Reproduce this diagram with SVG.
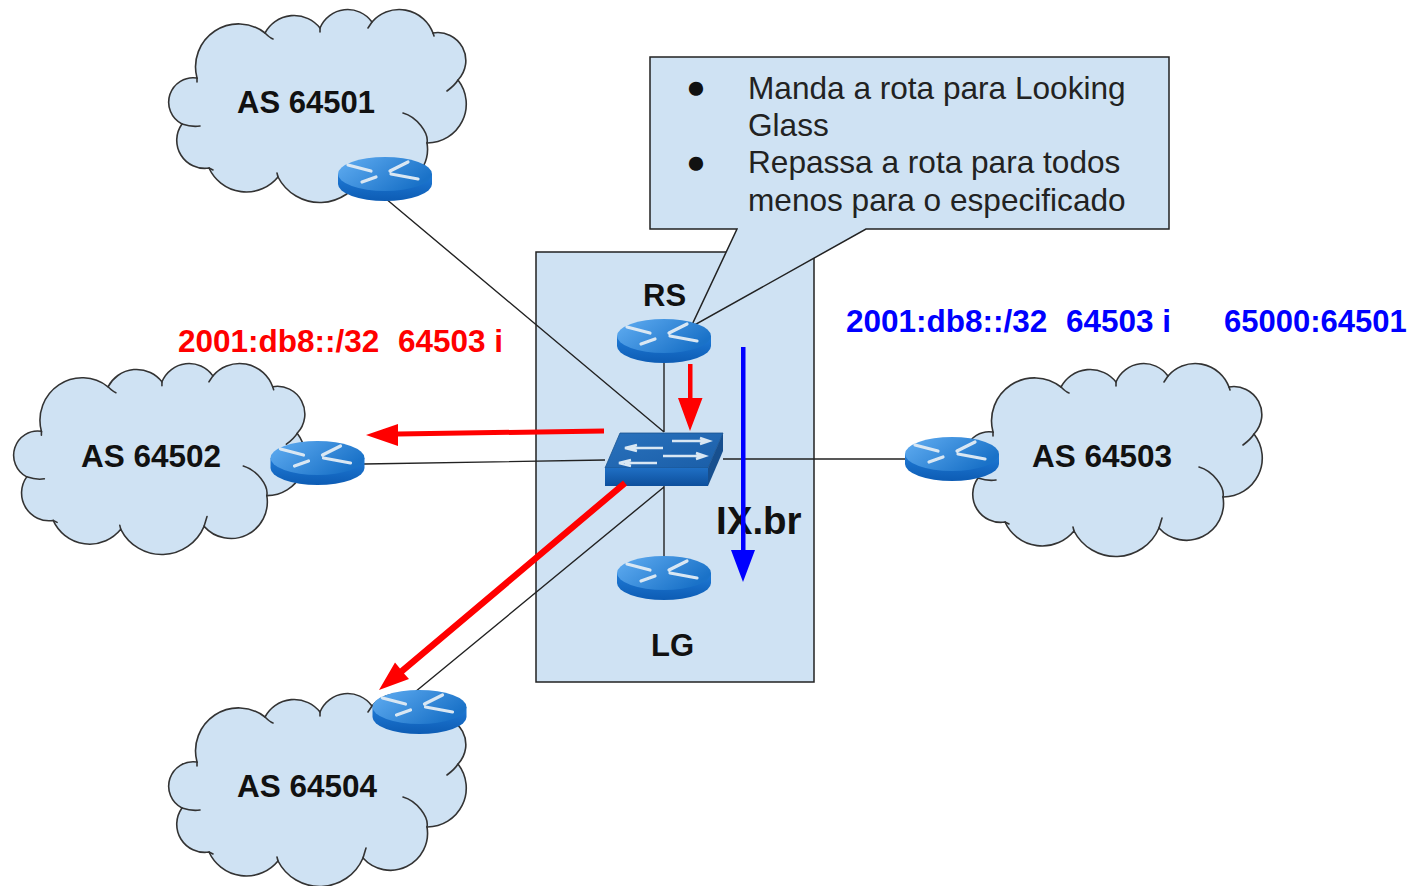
<svg xmlns="http://www.w3.org/2000/svg" width="1412" height="886" viewBox="0 0 1412 886">
<style>
text{font-family:"Liberation Sans",Arial,sans-serif;fill:#111}
.b{font-weight:700;font-size:31.500px}
.e{font-weight:700;font-size:31px}
.c{font-size:31.600px;fill:#222}
.d{font-size:33px;fill:#111}
.red{fill:#f00}.blue{fill:#00f}
.cl{fill:#cfe2f3;stroke:#333;stroke-width:1.6}
.hk{fill:none;stroke:#333;stroke-width:1.6;stroke-linecap:round}
.ln{fill:none;stroke:#222;stroke-width:1.4}
.box{fill:#cfe2f3;stroke:#222;stroke-width:1.5}
.mk{fill:none;stroke:#d9e7f3;stroke-width:3.2;stroke-linecap:round}
</style>
<defs>
<linearGradient id="rt" x1="0" y1="0" x2="1" y2="0.5"><stop offset="0" stop-color="#62aef2"/><stop offset="1" stop-color="#1a72c8"/></linearGradient>
<linearGradient id="rs" x1="0" y1="0" x2="0" y2="1"><stop offset="0" stop-color="#1f7ad6"/><stop offset="1" stop-color="#0d5cb4"/></linearGradient>
<linearGradient id="st" x1="0" y1="0" x2="1" y2="1"><stop offset="0" stop-color="#2a72bd"/><stop offset="1" stop-color="#1a5ea8"/></linearGradient>
<linearGradient id="sf" x1="0" y1="0" x2="0" y2="1"><stop offset="0" stop-color="#1f6fc4"/><stop offset="1" stop-color="#0d4f9c"/></linearGradient>
<g id="cloud">
<path class="cl" d="M197,78A24.500,24.500 0 0 0 182,124A28,28 0 0 0 209,168A41,41 0 0 0 278,177A47,47 0 0 0 363,174A37,37 0 0 0 427,143A39,39 0 0 0 458,80A28,28 0 0 0 433,33A36,36 0 0 0 372,22A30,30 0 0 0 320,28A33,33 0 0 0 265,33A43,43 0 0 0 197,78Z"/>
<path class="hk" d="M197,78L197,82M182,124C188,126 194,127 200,126M209,168L213,170M278,177L277,173M363,174L366,164M403,113C417,117 429,133 427,143M458,80C455,85 451,88 447,91M433,33L434,36M372,22L368,28M320,28L320,32M265,33C268,36 270,38 273,39"/>
</g>
<g id="router">
<path d="M-47,0V10A47,17 0 0 0 47,10V0Z" fill="url(#rs)"/>
<ellipse cx="0" cy="0" rx="47" ry="17" fill="url(#rt)"/>
<path class="mk" d="M-37,-9L-14,-3M23,-12L5,-3M-23,8L-9,3M6,0L33,5"/>
</g>
</defs>

<g id="ixbr"><rect class="box" x="536" y="252" width="278" height="430"/></g>

<g id="connectors">
<path class="ln" d="M385,198L664,432M364,464L605,460M723,459L905,459M664,360V432M664,486V556M415,692L664,487"/>
</g>

<g id="as64501"><use href="#cloud"/><text class="e" x="237" y="113">AS 64501</text></g>
<g id="as64504"><use href="#cloud" transform="translate(0,684)"/><text class="b" x="237" y="797">AS 64504</text></g>
<g id="as64502"><use href="#cloud" transform="translate(12,363) scale(.98,.99) translate(-167,-9)"/><text class="b" x="81" y="467">AS 64502</text></g>
<g id="as64503"><use href="#cloud" transform="translate(796,354)"/><text class="b" x="1032" y="467">AS 64503</text></g>

<g id="router-as64501"><use href="#router" x="385" y="174"/></g>
<g id="router-as64502"><use href="#router" x="317.500" y="458"/></g>
<g id="router-as64503"><use href="#router" x="952" y="454"/></g>
<g id="router-as64504"><use href="#router" x="419.500" y="707"/></g>

<g id="callout">
<path class="box" d="M650,57H1169V229H866L691,327L737,229H650Z"/>
<text class="d" x="686" y="98">●</text>
<text class="c" x="748" y="99">Manda a rota para Looking</text>
<text class="c" x="748" y="136">Glass</text>
<text class="d" x="686" y="173">●</text>
<text class="c" x="748" y="173">Repassa a rota para todos</text>
<text class="c" x="748" y="211">menos para o especificado</text>
</g>

<g id="rs"><text class="e" x="643" y="306">RS</text><use href="#router" x="664" y="336"/></g>
<g id="lg"><use href="#router" x="664" y="573"/><text class="e" x="651" y="656">LG</text></g>

<g id="switch">
<path d="M620,433H723L708,468H605Z" fill="url(#st)" stroke="#1a5490" stroke-width=".8"/>
<path d="M605,468H708V486H605Z" fill="url(#sf)"/>
<path d="M708,468L723,433V451L708,486Z" fill="#174f8e"/>
<path d="M672,441H706M700,438L709,441L700,444M663,456H702M696,453L705,456L696,459M663,448H630M637,445L625,448L637,451M657,463H625M631,460L619,463L631,466" fill="none" stroke="#d9e7f3" stroke-width="2.500"/>
</g>

<text class="b" x="716" y="534" style="font-size:38.500px">IX.br</text>
<text class="b red" x="178" y="352">2001:db8::/32</text>
<text class="b red" x="398" y="352">64503 i</text>
<text class="b blue" x="846" y="332">2001:db8::/32</text>
<text class="b blue" x="1066" y="332">64503 i</text>
<text class="e blue" x="1224" y="332">65000:64501</text>

<g id="arrows">
<path d="M688,364H692.500V398H702.500L690,431L678,398H688Z" fill="#f00"/>
<path d="M604,428.500L604,433.500L398,436.500L398,446L366,435L398,424L398,431.500Z" fill="#f00"/>
<path d="M623,480.500L627,485.500L404,673.500L409,679L379,690L395,662.600L400,668.500Z" fill="#f00"/>
<path d="M741,347H745.500V550H755L743,582L731,550H741Z" fill="#00f"/>
</g>
</svg>
